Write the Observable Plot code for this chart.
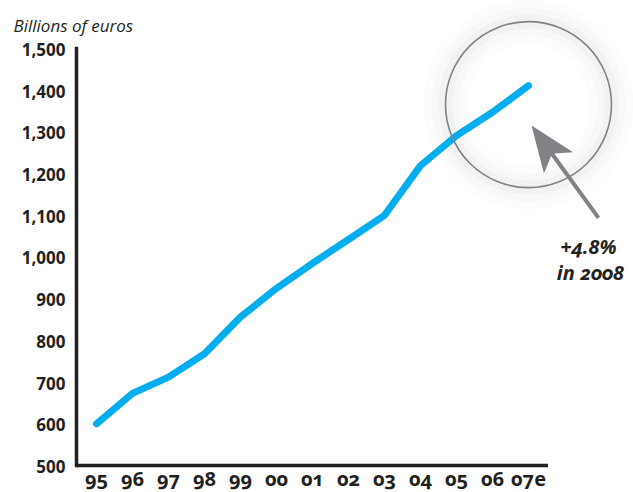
<!DOCTYPE html>
<html>
<head>
<meta charset="utf-8">
<script src="https://cdn.jsdelivr.net/npm/d3@7"></script>
<script src="https://cdn.jsdelivr.net/npm/@observablehq/plot@0.6"></script>
<style>
  body { margin: 0; background: #fff; }
  #chart svg { display: block; }
  #chart g[aria-label="x-axis tick label"] text,
  #chart g[aria-label="text"] text { font-variant-numeric: oldstyle-nums; font-feature-settings: "onum" 1; }
</style>
</head>
<body>
<div id="chart"></div>
<script>
const years = ["95","96","97","98","99","00","01","02","03","04","05","06","07e"];
const values = [600, 673, 712, 768, 856, 925, 985, 1042, 1100, 1219, 1291, 1347, 1411];
const yTicks = [500, 600, 700, 800, 900, 1000, 1100, 1200, 1300, 1400, 1500];
const unitLabel = "Billions of euros";
const noteLines = ["+4.8%", "in 2008"];

const data = years.map((y, i) => ({year: y, value: values[i]}));
const last = data[data.length - 1];

const ink = "#231f20";
const fontFamily = "'Open Sans', Lato, sans-serif";

// custom filled arrow shape (pointing up, length l)
const arrowShape = {
  draw(context, l) {
    const shaft = 2;
    const headLen = 46, notch = 36, headHalf = 18;
    context.moveTo(0, 0);
    context.lineTo(-headHalf, headLen);
    context.lineTo(-shaft, notch);
    context.lineTo(-shaft, l);
    context.lineTo(shaft, l);
    context.lineTo(shaft, notch);
    context.lineTo(headHalf, headLen);
    context.closePath();
  }
};

const chart = Plot.plot({
  width: 633,
  height: 492,
  marginLeft: 76,
  marginRight: 85,
  marginTop: 48,
  marginBottom: 27,
  style: {fontFamily, color: ink, background: "white", overflow: "visible"},
  x: {type: "point", domain: years, padding: 0.47, label: null},
  y: {domain: [500, 1500], ticks: yTicks, tickFormat: d3.format(","), label: null},
  marks: [
    // glow around the circle
    Plot.dot([last], {x: "year", y: "value", dy: 19, r: 83, stroke: "#9aa0a6", strokeWidth: 44, strokeOpacity: 0.035, fill: "none"}),
    Plot.dot([last], {x: "year", y: "value", dy: 19, r: 83, stroke: "#9aa0a6", strokeWidth: 28, strokeOpacity: 0.045, fill: "none"}),
    Plot.dot([last], {x: "year", y: "value", dy: 19, r: 83, stroke: "#9aa0a6", strokeWidth: 14, strokeOpacity: 0.055, fill: "none"}),
    Plot.axisY({ticks: yTicks, tickFormat: d3.format(","), tickSize: 0, tickPadding: 11, fontSize: 17, fontWeight: 700, fill: ink, dy: 2}),
    Plot.axisX({tickSize: 0, tickPadding: 6, fontSize: 20, fontWeight: 700, fill: ink}),
    Plot.line(data, {x: "year", y: "value", stroke: "#00aeef", strokeWidth: 7, strokeLinecap: "round", strokeLinejoin: "round"}),
    Plot.dot([last], {x: "year", y: "value", dy: 19, r: 83, stroke: "#808285", strokeWidth: 1.6, fill: "none"}),
    Plot.vector([last], {x: "year", y: "value", dx: 3, dy: 40, length: 114, rotate: -36, anchor: "start", shape: arrowShape, fill: "#808285", stroke: "none"}),
    Plot.ruleY([500], {stroke: ink, strokeWidth: 3.5}),
    Plot.frame({anchor: "left", stroke: ink, strokeWidth: 3.5}),
    Plot.text([unitLabel], {frameAnchor: "top-left", dx: -63, dy: -29, text: d => d, textAnchor: "start", fontSize: 17, fontStyle: "italic", fill: ink}),
    Plot.text([last], {x: "year", y: "value", text: () => noteLines[0], dx: 60, dy: 162, fontSize: 20, fontWeight: 700, fontStyle: "italic", fill: ink, textAnchor: "middle"}),
    Plot.text([last], {x: "year", y: "value", text: () => noteLines[1], dx: 62, dy: 188, fontSize: 20, fontWeight: 700, fontStyle: "italic", fill: ink, textAnchor: "middle"})
  ]
});

document.getElementById("chart").appendChild(chart);
</script>
</body>
</html>
